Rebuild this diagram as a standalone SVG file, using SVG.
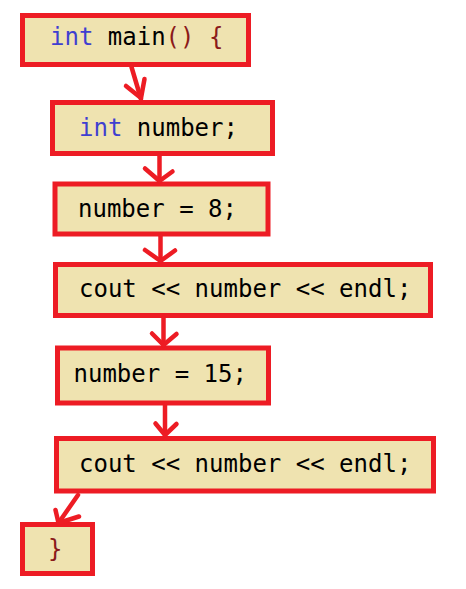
<svg xmlns="http://www.w3.org/2000/svg" width="466" height="589" viewBox="0 0 466 589">
  <style>
    .box { fill: #EFE3B0; stroke: #ED1C24; stroke-width: 5; }
    .code { font-family: "DejaVu Sans Mono", "Liberation Mono", monospace; font-size: 24px; fill: #000; }
    .kw { fill: #3F3FD0; }
    .br { fill: #8B1A1A; }
    .edge { fill: none; stroke: #ED1C24; stroke-width: 4.5; stroke-linecap: round; stroke-linejoin: round; }
  </style>
  <rect width="466" height="589" fill="#fff"/>

  <g id="n1">
    <rect class="box" x="22.5" y="15.5" width="226" height="49"/>
    <text class="code" x="50" y="45"><tspan class="kw">int</tspan> main<tspan class="br">() {</tspan></text>
  </g>
  <g id="n2">
    <rect class="box" x="52.5" y="102.5" width="220" height="51"/>
    <text class="code" x="79" y="136"><tspan class="kw">int</tspan> number;</text>
  </g>
  <g id="n3">
    <rect class="box" x="55" y="184" width="213" height="50"/>
    <text class="code" x="78" y="217">number = 8;</text>
  </g>
  <g id="n4">
    <rect class="box" x="55.5" y="264.5" width="375" height="51"/>
    <text class="code" x="79" y="297">cout &lt;&lt; number &lt;&lt; endl;</text>
  </g>
  <g id="n5">
    <rect class="box" x="57.5" y="348" width="211" height="55"/>
    <text class="code" x="73.5" y="382">number = 15;</text>
  </g>
  <g id="n6">
    <rect class="box" x="56.5" y="438.5" width="377" height="52.5"/>
    <text class="code" x="79" y="472">cout &lt;&lt; number &lt;&lt; endl;</text>
  </g>
  <g id="n7">
    <rect class="box" x="22.5" y="524.5" width="70" height="49"/>
    <text class="code br" x="48" y="557">}</text>
  </g>

  <g id="connectors">
    <!-- main() -> int number; -->
    <path class="edge" d="M131.5 67 L141 99"/>
    <path class="edge" d="M126 86 L141 98 L144.5 79"/>
    <!-- int number; -> number = 8; -->
    <path class="edge" d="M159.5 156 L159.5 181"/>
    <path class="edge" d="M145 168.5 L159.5 181 L172.5 171.5"/>
    <!-- number = 8; -> cout -->
    <path class="edge" d="M160.5 236 L160.5 261"/>
    <path class="edge" d="M145 250 L160.5 261 L175 250.5"/>
    <!-- cout -> number = 15; -->
    <path class="edge" d="M163.5 318 L163.5 345"/>
    <path class="edge" d="M152 333.5 L163.5 345 L176.5 334"/>
    <!-- number = 15; -> cout -->
    <path class="edge" d="M165 405 L165 435"/>
    <path class="edge" d="M155.5 423.5 L165 435 L176.5 424"/>
    <!-- cout -> } -->
    <path class="edge" d="M78 495 L58.5 523"/>
    <path class="edge" d="M55.5 510 L58.5 523 L79 516.5"/>
  </g>
</svg>
